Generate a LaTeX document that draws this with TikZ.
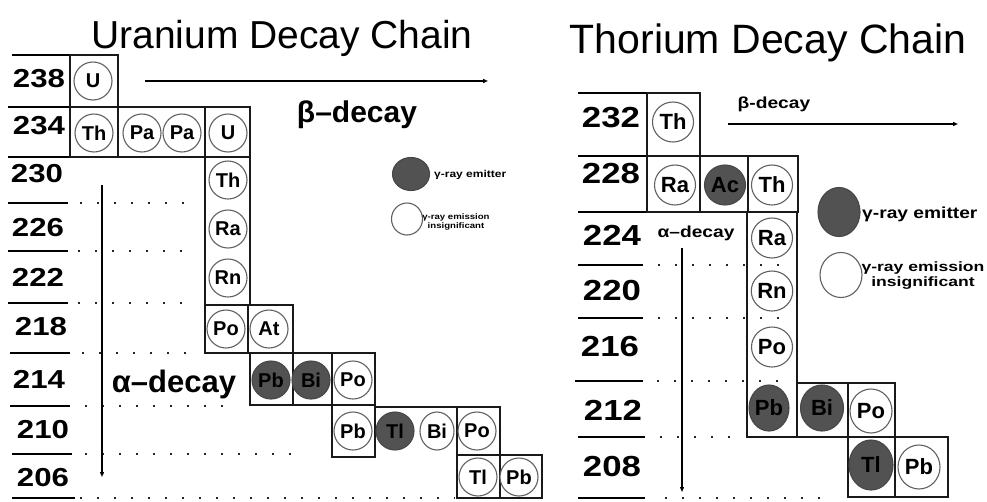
\documentclass[tikz,border=0pt]{standalone}
\usepackage{fontspec}
\setmainfont{Liberation Sans}
\newfontfamily\widefont[FakeStretch=1.2]{Liberation Sans}
\newfontfamily\widerfont[FakeStretch=1.3]{Liberation Sans}
\usetikzlibrary{arrows.meta,shapes.geometric}
\tikzset{
  nuc/.style={ellipse, draw=black!62, fill=white, line width=1.1pt, minimum width=38pt, minimum height=38pt,
    inner sep=0pt, text=black, font=\bfseries\fontsize{20}{20}\selectfont},
  nucR/.style={nuc, minimum width=41pt, minimum height=40pt, font=\bfseries\fontsize{22}{22}\selectfont},
  emit/.style={fill=black!68, draw=black!72},
  cellbox/.style={draw=black!90, line width=1.7pt},
  sepline/.style={draw=black, line width=2pt},
  dotline/.style={draw=black!85, line width=2pt, dash pattern=on 2pt off 15pt},
  numL/.style={font=\widefont\bfseries\fontsize{26}{26}\selectfont, inner sep=0pt},
  numR/.style={font=\widefont\bfseries\fontsize{29}{29}\selectfont, inner sep=0pt},
  decay/.style={line width=2pt, -{Triangle[length=5pt,width=4pt]}},
  titletext/.style={font=\fontsize{39}{39}\selectfont, inner sep=0pt, anchor=base},
  bigdecay/.style={font=\bfseries\fontsize{30}{30}\selectfont, inner sep=0pt, anchor=base},
  smalldecay/.style={font=\widefont\bfseries\fontsize{16}{16}\selectfont, inner sep=0pt, anchor=base},
}
\begin{document}
\begin{tikzpicture}[x=1pt,y=-1pt]
\useasboundingbox[fill=white] (0,0) rectangle (987,501);

% ---------- titles ----------
\node[titletext] (tU) at (282,48) {Uranium Decay Chain};
\node[titletext, font=\fontsize{41}{41}\selectfont] (tT) at (768,53) {Thorium Decay Chain};

% ---------- LEFT: separators and dotted lines ----------
\foreach \y/\a/\b in {55/12/70, 107/8/70, 157/8/70, 203/8/68, 251/8/68, 303/8/68, 353/10/70, 406/10/70, 454/12/72, 498/12/75}
  \draw[sepline] (\a,\y) -- (\b,\y);
\foreach \y/\a/\b in {203/80/185, 251/78/185, 303/78/185, 353/82/190, 406/85/225, 454/85/300, 498/80/455}
  \draw[dotline] (\a,\y) -- (\b,\y);

% row labels
\node[numL] (l238) at (39,79) {238};
\node[numL] (l234) at (39,126) {234};
\node[numL] (l230) at (37,174) {230};
\node[numL] (l226) at (38,228) {226};
\node[numL] (l222) at (38,277) {222};
\node[numL] (l218) at (41,327) {218};
\node[numL] (l214) at (39,379) {214};
\node[numL] (l210) at (43,430) {210};
\node[numL] (l206) at (43,478) {206};

% boxes
\draw[cellbox] (70,55) rectangle (118,107);
\draw[cellbox] (70,107) rectangle (250,157) (118,107) -- (118,157) (205,107) -- (205,157);
\draw[cellbox] (205,157) rectangle (250,305);
\draw[cellbox] (205,305) rectangle (293,353) (248,305) -- (248,353);
\draw[cellbox] (250,353) rectangle (375,405) (293,353) -- (293,405) (332,353) -- (332,405);
\draw[cellbox] (332,405) rectangle (375,457);
\draw[cellbox] (375,407) -- (500,407);
\draw[cellbox] (457,407) rectangle (500,455);
\draw[cellbox] (457,455) rectangle (542,498) (500,455) -- (500,498);

% nuclei
\node[nuc] (U238) at (93,81) {U};
\node[nuc] (Th234) at (94,133) {Th};
\node[nuc] (Pa234a) at (142,133) {Pa};
\node[nuc] (Pa234b) at (182,133) {Pa};
\node[nuc] (U234) at (228,133) {U};
\node[nuc] (Th230) at (228,180) {Th};
\node[nuc] (Ra226) at (228,229) {Ra};
\node[nuc] (Rn222) at (228,278) {Rn};
\node[nuc] (Po218) at (226,329) {Po};
\node[nuc] (At218) at (269,329) {At};
\node[nuc,emit] (Pb214) at (271,380) {Pb};
\node[nuc,emit] (Bi214) at (311,380) {Bi};
\node[nuc] (Po214) at (353,380) {Po};
\node[nuc] (Pb210) at (353,431) {Pb};
\node[nuc,emit] (Tl210) at (395,431) {Tl};
\node[nuc, minimum width=34pt] (Bi210) at (437,431) {Bi};
\node[nuc] (Po210) at (477,431) {Po};
\node[nuc] (Tl206) at (478,477) {Tl};
\node[nuc] (Pb206) at (519,477) {Pb};

% decay arrows
\coordinate (bLs) at (145,81);
\coordinate (bLe) at (488,81);
\draw[decay] (bLs) -- (bLe);
\coordinate (aLs) at (102,185);
\coordinate (aLe) at (102,477);
\draw[decay] (aLs) -- (aLe);
\node[bigdecay] (bLt) at (357,122) {β–decay};
\node[bigdecay, font=\bfseries\fontsize{31}{31}\selectfont] (aLt) at (174,392) {α–decay};

% legend left
\node[nuc, emit, minimum width=37pt, minimum height=33pt] (legE1) at (411,174) {};
\node[font=\widefont\bfseries\fontsize{10}{10}\selectfont, inner sep=0pt, anchor=base west] (legE1t) at (434,177) {γ-ray emitter};
\node[nuc, minimum width=31pt, minimum height=32pt] (legW1) at (407,219) {};
\node[font=\widefont\bfseries\fontsize{8}{9.5}\selectfont, inner sep=0pt, align=center] (legW1t) at (456,222) {γ-ray emission\\insignificant};

% ---------- RIGHT ----------
\foreach \y/\a/\b in {93/578/647, 156/578/647, 212/578/647, 265/578/643, 318/578/643, 381/575/643, 437/578/645, 498/578/645}
  \draw[sepline] (\a,\y) -- (\b,\y);
\foreach \y/\a/\b in {265/658/790, 318/658/790, 381/657/780, 437/660/740, 498/665/825}
  \draw[dotline] (\a,\y) -- (\b,\y);

\node[numR] (r232) at (611,118) {232};
\node[numR] (r228) at (611,174) {228};
\node[numR] (r224) at (612,235) {224};
\node[numR] (r220) at (612,291) {220};
\node[numR] (r216) at (610,347) {216};
\node[numR] (r212) at (613,410) {212};
\node[numR] (r208) at (612,467) {208};

\draw[cellbox] (647,93) rectangle (700,156);
\draw[cellbox] (647,156) rectangle (798,212) (700,156) -- (700,212) (748,156) -- (748,212);
\draw[cellbox] (747,212) rectangle (797,437);
\draw[cellbox] (797,383) rectangle (895,437) (848,383) -- (848,437);
\draw[cellbox] (848,437) rectangle (948,497) (895,437) -- (895,497);

\node[nucR] (Th232) at (673,122) {Th};
\node[nucR] (Ra228) at (675,185) {Ra};
\node[nucR,emit] (Ac228) at (725,185) {Ac};
\node[nucR] (Th228) at (772,185) {Th};
\node[nucR] (Ra224) at (772,238) {Ra};
\node[nucR] (Rn220) at (772,291) {Rn};
\node[nucR] (Po216) at (772,347) {Po};
\node[nucR,emit, minimum width=40pt, minimum height=46pt] (Pb212) at (769,408) {Pb};
\node[nucR,emit, minimum width=43pt, minimum height=46pt] (Bi212) at (822,408) {Bi};
\node[nucR, minimum width=42pt, minimum height=44pt] (Po212) at (871,411) {Po};
\node[nucR,emit, minimum width=44pt, minimum height=50pt] (Tl208) at (871,465) {Tl};
\node[nucR, minimum width=42pt, minimum height=44pt] (Pb208) at (919,467) {Pb};

\coordinate (bRs) at (728,124);
\coordinate (bRe) at (958,124);
\draw[decay] (bRs) -- (bRe);
\coordinate (aRs) at (682,248);
\coordinate (aRe) at (682,492);
\draw[decay] (aRs) -- (aRe);
\node[smalldecay] (bRt) at (774,108) {β-decay};
\node[smalldecay] (aRt) at (696,237) {α–decay};

\node[nuc, emit, minimum width=42pt, minimum height=49pt] (legE2) at (839,212) {};
\node[font=\widefont\bfseries\fontsize{16}{16}\selectfont, inner sep=0pt, anchor=base west] (legE2t) at (862,218) {γ-ray emitter};
\node[nuc, minimum width=42pt, minimum height=45pt] (legW2) at (841,275) {};
\node[font=\widerfont\bfseries\fontsize{13.5}{15}\selectfont, inner sep=0pt, align=center] (legW2t) at (923,276) {γ-ray emission\\insignificant};
\end{tikzpicture}
\end{document}
